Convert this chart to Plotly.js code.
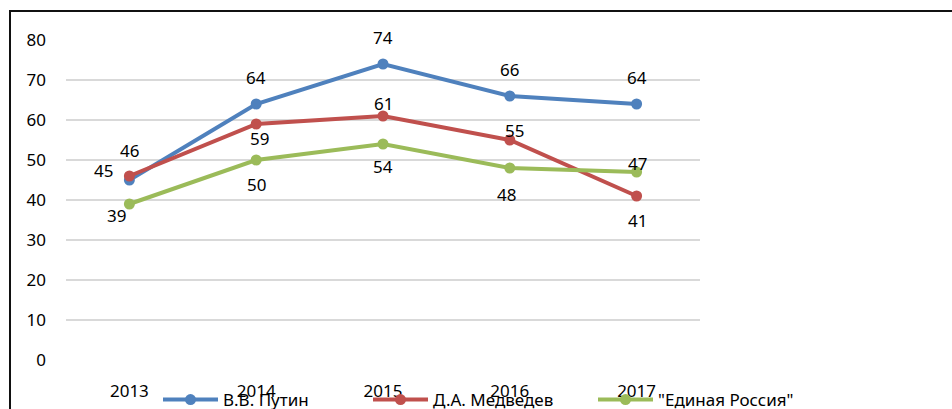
<!DOCTYPE html>
<html><head><meta charset="utf-8">
<script src="https://cdn.plot.ly/plotly-3.0.1.min.js"></script>
<style>
html,body{margin:0;padding:0;background:#fff;overflow:hidden;}
#frame{position:absolute;left:9px;top:10px;width:1000px;height:500px;border-left:2px solid #111;border-top:2px solid #111;}
#chart{position:absolute;left:0;top:0;width:952px;height:409px;}
</style></head>
<body>
<div id="frame"></div>
<div id="chart"></div>
<script>
const years = ['2013','2014','2015','2016','2017'];
const putin = [45, 64, 74, 66, 64];
const medvedev = [46, 59, 61, 55, 41];
const er = [39, 50, 54, 48, 47];
const names = ['В.В. Путин', 'Д.А. Медведев', '"Единая Россия"'];
// label offsets in pixels [dx, dy] (screen, y down)
const putinOff = [[-26,-10],[0,-27],[0,-27],[0,-27],[0,-27]];
const medvedevOff = [[0,-26],[3,14],[0,-13],[5,-10],[1,24]];
const erOff = [[-13,11],[0,24],[0,22],[-3,26],[1,-9]];
const colors = ['#4F81BD','#C0504D','#9BBB59'];
const font = 'Noto Sans, Open Sans, sans-serif';

function tr(y, name, color, leg){
  return {x: years, y: y, name: name, type:'scatter', mode:'lines+markers',
    line:{color:color, width:4}, marker:{color:color, size:11}, cliponaxis:false, legend: leg};
}
const data = [
  tr(putin, names[0], colors[0], 'legend'),
  tr(medvedev, names[1], colors[1], 'legend2'),
  tr(er, names[2], colors[2], 'legend3')
];
const annotations = [];
[[putin, putinOff],[medvedev, medvedevOff],[er, erOff]].forEach(([vals, offs]) => {
  vals.forEach((v, i) => {
    // category axis: position annotations by category index
    annotations.push({x: i, y: v, text: String(v), showarrow:false,
      xanchor:'center', yanchor:'middle', xshift: offs[i][0], yshift: -offs[i][1],
      font:{family:font, size:17, color:'#000'}});
  });
});
function leg(x){
  return {xref:'container', yref:'container', x:x, y:0.022, xanchor:'left', yanchor:'middle',
    itemwidth:55, bgcolor:'rgba(0,0,0,0)', font:{family:font, size:17, color:'#000'}};
}
const layout = {
  width:952, height:409,
  margin:{l:66, r:252, t:40, b:49, autoexpand:false},
  paper_bgcolor:'rgba(0,0,0,0)', plot_bgcolor:'rgba(0,0,0,0)',
  font:{family:font, size:17, color:'#000'},
  xaxis:{type:'category', range:[-0.5,4.5], showgrid:false, zeroline:false, showline:false,
    ticks:'', ticklabelstandoff:19, tickfont:{family:font, size:17, color:'#000'}},
  yaxis:{range:[0,80], dtick:10, tick0:0, showgrid:true, gridcolor:'#d9d9d9', gridwidth:1.5,
    zeroline:false, showline:false, ticks:'', ticklabelstandoff:19,
    tickfont:{family:font, size:17, color:'#000'}},
  legend: leg(158/952),
  legend2: leg(368/952),
  legend3: leg(593/952),
  annotations: annotations,
  showlegend:true
};
Plotly.newPlot('chart', data, layout, {displayModeBar:false, staticPlot:true});
</script>
</body></html>
